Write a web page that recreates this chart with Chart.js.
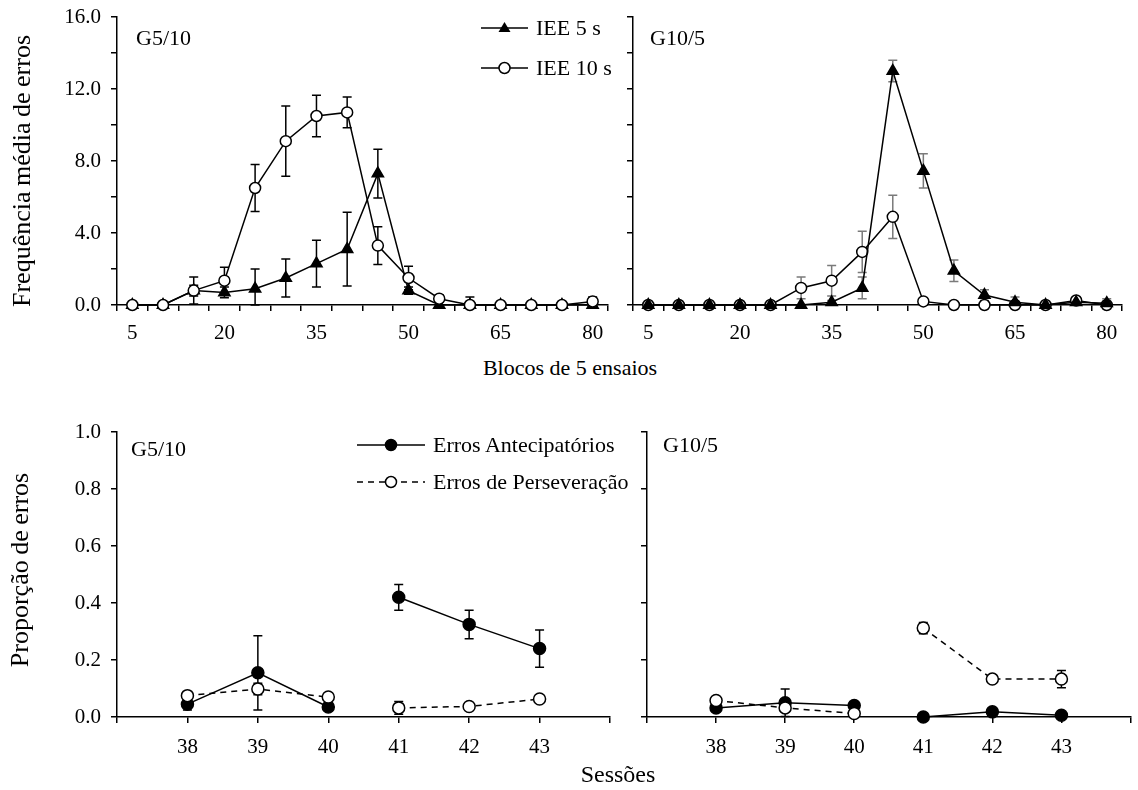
<!DOCTYPE html>
<html lang="pt">
<head>
<meta charset="UTF-8">
<title>Frequência e proporção de erros</title>
<script src="https://cdn.jsdelivr.net/npm/chart.js"></script>
<style>
  body { margin: 0; background: #fff; }
  #fig {
    position: relative; width: 1138px; height: 790px; overflow: hidden;
    font-family: "Liberation Serif", "Times New Roman", serif; color: #000;
  }
  #fig canvas { position: absolute; }
  .txt { position: absolute; white-space: nowrap; line-height: 1; }
  .center { transform: translate(-50%, -50%); }
  .left { transform: translateY(-50%); }
  .rot { transform: translate(-50%, -50%) rotate(-90deg); }
  svg.key { position: absolute; overflow: visible; }
</style>
</head>
<body>
<div id="fig">
  <canvas id="topLeft" width="620" height="345" style="left:0;top:0"></canvas>
  <canvas id="topRight" width="518" height="345" style="left:620px;top:0"></canvas>
  <canvas id="botLeft" width="620" height="390" style="left:0;top:400px"></canvas>
  <canvas id="botRight" width="518" height="390" style="left:620px;top:400px"></canvas>

  <!-- axis titles and panel labels -->
  <div class="txt rot" style="left:22px;top:171px;font-size:26px;word-spacing:-1px">Frequência média de erros</div>
  <div class="txt center" style="left:570px;top:368px;font-size:22px">Blocos de 5 ensaios</div>
  <div class="txt rot" style="left:20px;top:570px;font-size:26px;word-spacing:-1px">Proporção de erros</div>
  <div class="txt center" style="left:618px;top:774px;font-size:24px">Sessões</div>

  <div class="txt left" style="left:136px;top:38px;font-size:22px">G5/10</div>
  <div class="txt left" style="left:650px;top:38px;font-size:22px">G10/5</div>
  <div class="txt left" style="left:131px;top:449px;font-size:22px">G5/10</div>
  <div class="txt left" style="left:663px;top:445px;font-size:22px">G10/5</div>
</div>

<script>
// ---- data ----
const blocks = ['5','10','15','20','25','30','35','40','45','50','55','60','65','70','75','80'];
const freqTicks = [0, 4, 8, 12, 16];

// G5/10, frequência média de erros
const g510Iee5     = [0, 0, 0.8, 0.7, 0.9, 1.5, 2.3, 3.1, 7.3, 0.8, 0, 0, 0, 0, 0, 0];
const g510Iee5Err  = [0, 0, 0.3, 0.3, 1.1, 1.05, 1.3, 2.05, 1.35, 0.2, 0, 0, 0, 0, 0, 0];
const g510Iee10    = [0, 0, 0.8, 1.35, 6.5, 9.1, 10.5, 10.7, 3.3, 1.5, 0.35, 0, 0, 0, 0, 0.2];
const g510Iee10Err = [0, 0, 0.75, 0.75, 1.3, 1.95, 1.15, 0.85, 1.05, 0.65, 0.2, 0.45, 0, 0, 0, 0.25];

// G10/5
const g105Iee5     = [0, 0, 0, 0, 0, 0, 0.15, 0.95, 13.0, 7.45, 1.9, 0.55, 0.15, 0, 0.15, 0.1];
const g105Iee5Err  = [0, 0, 0, 0, 0, 0, 0.1, 0.6, 0.6, 0.95, 0.6, 0.3, 0.3, 0, 0.2, 0.25];
const g105Iee10    = [0, 0, 0, 0, 0, 0.95, 1.35, 2.95, 4.9, 0.2, 0, 0, 0, 0, 0.25, 0];
const g105Iee10Err = [0, 0, 0, 0, 0, 0.6, 0.85, 1.15, 1.2, 0, 0, 0, 0, 0, 0.1, 0];

// proporção de erros por sessão
const sessions = [38, 39, 40, 41, 42, 43];
const phaseEnd = 40;   // no line between 40 and 41
const g510Antec     = [0.045, 0.155, 0.035, 0.42, 0.325, 0.24];
const g510AntecErr  = [0.02, 0.13, 0.01, 0.045, 0.05, 0.065];
const g510Persev    = [0.075, 0.098, 0.07, 0.032, 0.037, 0.063];
const g510PersevErr = [0.012, 0.02, 0.01, 0.022, 0.01, 0.012];
const g105Antec     = [0.032, 0.05, 0.04, 0, 0.018, 0.006];
const g105AntecErr  = [0, 0.048, 0, 0, 0, 0];
const g105Persev    = [0.058, 0.032, 0.012, 0.312, 0.133, 0.133];
const g105PersevErr = [0, 0, 0, 0.02, 0, 0.03];

// ---- setup ----
const serif = '"Liberation Serif", "Times New Roman", serif';
Chart.defaults.font.family = serif;
Chart.defaults.color = '#000';

// vertical error bars, drawn under the markers
const errorBars = {
  id: 'errorBars',
  beforeDatasetsDraw(chart) {
    const { ctx, scales: { y } } = chart;
    ctx.save();
    chart.data.datasets.forEach((ds, di) => {
      if (!ds.errors) return;
      const meta = chart.getDatasetMeta(di);
      ctx.strokeStyle = ds.errorColor || '#000';
      ctx.lineWidth = 1.5;
      meta.data.forEach((pt, i) => {
        const e = ds.errors[i];
        if (!e) return;
        const v = meta.controller.getParsed(i).y;
        const top = y.getPixelForValue(v + e);
        const bot = y.getPixelForValue(Math.max(v - e, y.min));
        ctx.beginPath();
        ctx.moveTo(pt.x, top); ctx.lineTo(pt.x, bot);
        ctx.moveTo(pt.x - 4.5, top); ctx.lineTo(pt.x + 4.5, top);
        ctx.moveTo(pt.x - 4.5, bot); ctx.lineTo(pt.x + 4.5, bot);
        ctx.stroke();
      });
    });
    ctx.restore();
  }
};

function axisGrid() {
  return { drawOnChartArea: false, color: '#000', lineWidth: 1.5, tickLength: 6 };
}

function fixSize(prop, size) {
  return s => {
    s[prop] = size;
    s.paddingTop = s.paddingBottom = s.paddingLeft = s.paddingRight = 0;
  };
}

function series(label, values, errors, opts) {
  return Object.assign({
    label, data: values, errors,
    borderColor: '#000', borderWidth: 1.5,
    pointBorderColor: '#000', pointBorderWidth: 1.5,
    pointRadius: 5.5, pointHoverRadius: 5.5,
    tension: 0, clip: false
  }, opts);
}

function freqChart(id, iee5, iee5Err, iee10, iee10Err, o) {
  new Chart(document.getElementById(id), {
    type: 'line',
    data: {
      labels: blocks,
      datasets: [
        series('IEE 5 s', iee5, iee5Err, {
          pointStyle: 'triangle', pointRadius: 6.5, pointBackgroundColor: '#000',
          order: o.circlesOnTop ? 1 : 0, errorColor: o.errColor
        }),
        series('IEE 10 s', iee10, iee10Err, {
          pointStyle: 'circle', pointBackgroundColor: '#fff',
          order: o.circlesOnTop ? 0 : 1, errorColor: o.errColor
        })
      ]
    },
    options: {
      responsive: false, animation: false, devicePixelRatio: 1,
      layout: { padding: { top: 17, right: o.padRight, bottom: 0, left: 0 } },
      plugins: { legend: { display: false }, tooltip: { enabled: false } },
      scales: {
        x: {
          type: 'category', offset: true,
          grid: Object.assign(axisGrid(), { offset: true }),
          border: { color: '#000', width: 1.5 },
          ticks: {
            autoSkip: false, maxRotation: 0, padding: 10, font: { size: 21 },
            callback: (v, i) => i % 3 === 0 ? blocks[i] : ''
          },
          afterFit: fixSize('height', 40)
        },
        y: {
          min: 0, max: 16,
          grid: axisGrid(),
          border: { color: '#000', width: 1.5 },
          ticks: {
            stepSize: 2, padding: 10, font: { size: 21 },
            callback: v => (o.labels && freqTicks.includes(v)) ? v.toFixed(1) : ''
          },
          afterFit: fixSize('width', o.yWidth)
        }
      }
    },
    plugins: [errorBars]
  });
}

function propChart(id, antec, antecErr, persev, persevErr, o) {
  const pts = vals => sessions.map((s, i) => ({ x: s, y: vals[i] }));
  const gap = { borderColor: c => c.p0.parsed.x === phaseEnd ? 'rgba(0,0,0,0)' : undefined };
  new Chart(document.getElementById(id), {
    type: 'line',
    data: {
      datasets: [
        series('Erros Antecipatórios', pts(antec), antecErr, {
          pointRadius: 6, pointBackgroundColor: '#000', order: 1, segment: gap
        }),
        series('Erros de Perseveração', pts(persev), persevErr, {
          pointRadius: 6, pointBackgroundColor: '#fff', borderDash: [6, 5], order: 0, segment: gap
        })
      ]
    },
    options: {
      responsive: false, animation: false, devicePixelRatio: 1,
      layout: { padding: { top: 32, right: o.padRight, bottom: 0, left: 0 } },
      plugins: { legend: { display: false }, tooltip: { enabled: false } },
      scales: {
        x: {
          type: 'linear', min: 37, max: 44,
          grid: axisGrid(),
          border: { color: '#000', width: 1.5 },
          ticks: {
            stepSize: 1, maxRotation: 0, padding: 12, font: { size: 21 },
            callback: v => sessions.includes(v) ? String(v) : ''
          },
          afterFit: fixSize('height', 73)
        },
        y: {
          min: 0, max: 1,
          grid: axisGrid(),
          border: { color: '#000', width: 1.5 },
          ticks: {
            stepSize: 0.2, padding: 10, font: { size: 21 },
            callback: v => o.labels ? v.toFixed(1) : ''
          },
          afterFit: fixSize('width', o.yWidth)
        }
      }
    },
    plugins: [errorBars]
  });
}

freqChart('topLeft', g510Iee5, g510Iee5Err, g510Iee10, g510Iee10Err,
  { labels: true, yWidth: 117, padRight: 12, circlesOnTop: true, errColor: '#000' });
freqChart('topRight', g105Iee5, g105Iee5Err, g105Iee10, g105Iee10Err,
  { labels: false, yWidth: 13, padRight: 16, circlesOnTop: false, errColor: '#7a7a7a' });
propChart('botLeft', g510Antec, g510AntecErr, g510Persev, g510PersevErr,
  { labels: true, yWidth: 117, padRight: 10 });
propChart('botRight', g105Antec, g105AntecErr, g105Persev, g105PersevErr,
  { labels: false, yWidth: 27, padRight: 2 });

// ---- legends (line + marker + label) ----
const fig = document.getElementById('fig');
function legendRow(x, y, len, size, item) {
  const m = len / 2;
  let marker;
  if (item.marker === 'triangle') {
    marker = `<polygon points="${m},4 ${m - 6},14 ${m + 6},14" fill="#000"/>`;
  } else {
    marker = `<circle cx="${m}" cy="10" r="5.5" fill="${item.fill}" stroke="#000" stroke-width="1.5"/>`;
  }
  const dash = item.dash ? 'stroke-dasharray="6 5"' : '';
  fig.insertAdjacentHTML('beforeend',
    `<svg class="key" width="${len}" height="20" style="left:${x}px;top:${y - 10}px">` +
    `<line x1="0" y1="10" x2="${len}" y2="10" stroke="#000" stroke-width="1.5" ${dash}/>${marker}</svg>` +
    `<div class="txt left" style="left:${x + len + 8}px;top:${y}px;font-size:${size}px">${item.label}</div>`);
}
legendRow(481, 28, 47, 22, { label: 'IEE 5 s', marker: 'triangle' });
legendRow(481, 68, 47, 22, { label: 'IEE 10 s', marker: 'circle', fill: '#fff' });
legendRow(357, 445, 68, 22, { label: 'Erros Antecipatórios', marker: 'circle', fill: '#000' });
legendRow(357, 482, 68, 22, { label: 'Erros de Perseveração', marker: 'circle', fill: '#fff', dash: true });
</script>
</body>
</html>
